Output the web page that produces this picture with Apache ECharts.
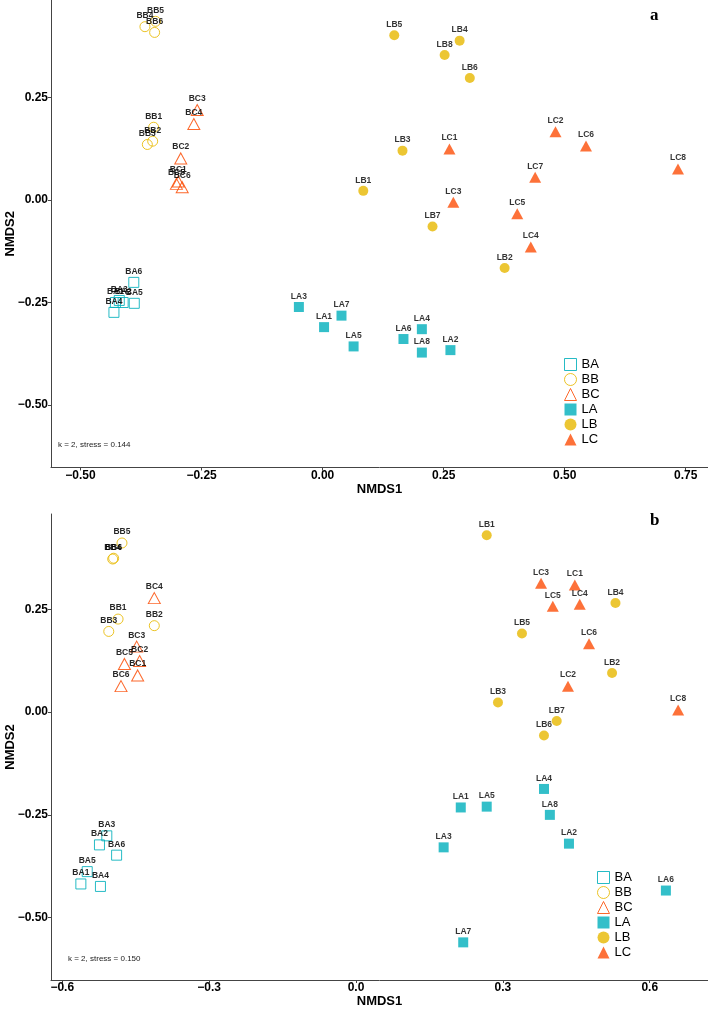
<!DOCTYPE html>
<html>
<head>
<meta charset="utf-8">
<script src="https://cdn.jsdelivr.net/npm/echarts@6/dist/echarts.min.js"></script>
<style>
  html, body { margin: 0; padding: 0; background: #fff; }
  #chart { width: 708px; height: 1010px; }
</style>
</head>
<body>
<div id="chart"></div>
<script>
// panel a: [NMDS1, NMDS2, sample]
var baA = [[-0.428, -0.250, 'BA1'], [-0.412, -0.250, 'BA2'], [-0.420, -0.245, 'BA3'], [-0.431, -0.274, 'BA4'], [-0.389, -0.252, 'BA5'], [-0.390, -0.201, 'BA6']];
var bbA = [[-0.349, 0.177, 'BB1'], [-0.351, 0.143, 'BB2'], [-0.362, 0.135, 'BB3'], [-0.367, 0.422, 'BB4'], [-0.345, 0.435, 'BB5'], [-0.347, 0.408, 'BB6']];
var bcA = [[-0.298, 0.045, 'BC1'], [-0.293, 0.101, 'BC2'], [-0.259, 0.219, 'BC3'], [-0.266, 0.185, 'BC4'], [-0.302, 0.039, 'BC5'], [-0.290, 0.031, 'BC6']];
var laA = [[0.003, -0.310, 'LA1'], [0.264, -0.366, 'LA2'], [-0.049, -0.261, 'LA3'], [0.205, -0.315, 'LA4'], [0.064, -0.357, 'LA5'], [0.167, -0.339, 'LA6'], [0.039, -0.282, 'LA7'], [0.205, -0.372, 'LA8']];
var lbA = [[0.084, 0.022, 'LB1'], [0.376, -0.166, 'LB2'], [0.165, 0.120, 'LB3'], [0.283, 0.388, 'LB4'], [0.148, 0.401, 'LB5'], [0.304, 0.297, 'LB6'], [0.227, -0.065, 'LB7'], [0.252, 0.353, 'LB8']];
var lcA = [[0.262, 0.124, 'LC1'], [0.481, 0.166, 'LC2'], [0.270, -0.006, 'LC3'], [0.430, -0.115, 'LC4'], [0.402, -0.034, 'LC5'], [0.544, 0.131, 'LC6'], [0.439, 0.055, 'LC7'], [0.734, 0.075, 'LC8']];

// panel b
var baB = [[-0.562, -0.418, 'BA1'], [-0.524, -0.323, 'BA2'], [-0.509, -0.301, 'BA3'], [-0.522, -0.424, 'BA4'], [-0.549, -0.388, 'BA5'], [-0.489, -0.348, 'BA6']];
var bbB = [[-0.486, 0.226, 'BB1'], [-0.412, 0.210, 'BB2'], [-0.505, 0.196, 'BB3'], [-0.497, 0.372, 'BB4'], [-0.478, 0.411, 'BB5'], [-0.495, 0.374, 'BB6']];
var bcB = [[-0.446, 0.089, 'BC1'], [-0.442, 0.124, 'BC2'], [-0.448, 0.159, 'BC3'], [-0.412, 0.277, 'BC4'], [-0.473, 0.117, 'BC5'], [-0.480, 0.063, 'BC6']];
var laB = [[0.214, -0.232, 'LA1'], [0.435, -0.320, 'LA2'], [0.179, -0.329, 'LA3'], [0.384, -0.187, 'LA4'], [0.267, -0.230, 'LA5'], [0.633, -0.434, 'LA6'], [0.219, -0.560, 'LA7'], [0.396, -0.250, 'LA8']];
var lbB = [[0.267, 0.430, 'LB1'], [0.523, 0.095, 'LB2'], [0.290, 0.023, 'LB3'], [0.530, 0.265, 'LB4'], [0.339, 0.191, 'LB5'], [0.384, -0.057, 'LB6'], [0.410, -0.022, 'LB7']];
var lcB = [[0.447, 0.309, 'LC1'], [0.433, 0.063, 'LC2'], [0.378, 0.313, 'LC3'], [0.457, 0.262, 'LC4'], [0.402, 0.257, 'LC5'], [0.476, 0.166, 'LC6'], [0.658, 0.005, 'LC8']];

var groups = ['BA', 'BB', 'BC', 'LA', 'LB', 'LC'];
var xTicksA = [-0.5, -0.25, 0, 0.25, 0.5, 0.75];
var xTicksB = [-0.6, -0.3, 0, 0.3, 0.6];
var yTicks = [-0.5, -0.25, 0, 0.25];
var stressA = 'k = 2, stress = 0.144';
var stressB = 'k = 2, stress = 0.150';

var FONT = 'Liberation Sans';
var cols = { A: '#00AFBB', B: '#E7B800', C: '#FC4E07' };
var shapes = { A: 'rect', B: 'circle', C: 'triangle' };
var sizes = { A: 10, B: 10, C: [12, 11] };

function fmt(d) {
    return function (v) { return (v < 0 ? '\u2212' : '') + Math.abs(v).toFixed(d); };
}

function makeSeries(name, arr, idx) {
    var k = name.charAt(1);
    var hollow = name.charAt(0) === 'B';
    return {
        type: 'scatter',
        name: name,
        xAxisIndex: idx,
        yAxisIndex: idx,
        symbol: shapes[k],
        symbolSize: sizes[k],
        itemStyle: hollow
            ? { color: 'transparent', borderColor: cols[k], borderWidth: 1, opacity: 0.85 }
            : { color: cols[k] },
        label: {
            show: true, position: 'top', distance: 1, formatter: '{b}',
            fontFamily: FONT, fontSize: 8.5, fontWeight: 'bold', color: '#000'
        },
        emphasis: { disabled: true },
        data: arr.map(function (p) { return { value: [p[0], p[1]], name: p[2] }; })
    };
}

function legendData() {
    return groups.map(function (g) {
        var k = g.charAt(1);
        var hollow = g.charAt(0) === 'B';
        return {
            name: g,
            icon: shapes[k],
            itemStyle: hollow
                ? { color: 'transparent', borderColor: cols[k], borderWidth: 1 }
                : { color: cols[k], borderWidth: 0 }
        };
    });
}

function xAxis(idx, min, max, ticks, dec) {
    return {
        type: 'value', gridIndex: idx, min: min, max: max,
        name: 'NMDS1', nameLocation: 'middle', nameGap: 15, nameMoveOverlap: false,
        nameTextStyle: { fontFamily: FONT, fontSize: 13, fontWeight: 'bold', color: '#000' },
        axisLine: { show: true, onZero: false, lineStyle: { color: '#444', width: 1 } },
        axisTick: { show: true, length: 3, customValues: ticks, lineStyle: { color: '#444' } },
        axisLabel: { customValues: ticks, margin: 2, formatter: fmt(dec),
            fontFamily: FONT, fontSize: 12, fontWeight: 'bold', color: '#000' },
        splitLine: { show: false }
    };
}

function yAxis(idx, min, max) {
    return {
        type: 'value', gridIndex: idx, min: min, max: max,
        name: 'NMDS2', nameLocation: 'middle', nameGap: 34, nameRotate: 90, nameMoveOverlap: false,
        nameTextStyle: { fontFamily: FONT, fontSize: 13, fontWeight: 'bold', color: '#000' },
        axisLine: { show: true, onZero: false, lineStyle: { color: '#444', width: 1 } },
        axisTick: { show: true, length: 3, customValues: yTicks, lineStyle: { color: '#444' } },
        axisLabel: { customValues: yTicks, margin: 3, formatter: fmt(2),
            fontFamily: FONT, fontSize: 12, fontWeight: 'bold', color: '#000' },
        splitLine: { show: false }
    };
}

var seriesList = [];
[baA, bbA, bcA, laA, lbA, lcA].forEach(function (arr, i) { seriesList.push(makeSeries(groups[i], arr, 0)); });
[baB, bbB, bcB, laB, lbB, lcB].forEach(function (arr, i) { seriesList.push(makeSeries(groups[i], arr, 1)); });

var legendStyle = {
    orient: 'vertical', itemWidth: 12, itemHeight: 12, itemGap: 2, selectedMode: false,
    textStyle: { fontFamily: FONT, fontSize: 13, color: '#000' }
};

var myChart = echarts.init(document.getElementById('chart'), null, { renderer: 'canvas' });
var option = {
    animation: false,
    backgroundColor: '#fff',
    title: [
        { text: 'a', left: 645, top: 2, textStyle: { fontFamily: 'Liberation Serif', fontSize: 17, fontWeight: 'bold', color: '#000' } },
        { text: 'b', left: 645, top: 507, textStyle: { fontFamily: 'Liberation Serif', fontSize: 17, fontWeight: 'bold', color: '#000' } }
    ],
    legend: [
        Object.assign({ data: legendData(), left: 559, top: 353 }, legendStyle),
        Object.assign({ data: legendData(), left: 592, top: 866 }, legendStyle)
    ],
    grid: [
        { left: 51, right: 0, top: 0, height: 467.5, containLabel: false, outerBoundsMode: 'none' },
        { left: 51, right: 0, top: 514, height: 466, containLabel: false, outerBoundsMode: 'none' }
    ],
    xAxis: [xAxis(0, -0.561, 0.796, xTicksA, 2), xAxis(1, -0.623, 0.719, xTicksB, 1)],
    yAxis: [yAxis(0, -0.652, 0.487), yAxis(1, -0.6515, 0.4815)],
    graphic: [
        { type: 'text', left: 58, top: 441, style: { text: stressA, fontFamily: FONT, fontSize: 8, fill: '#222' } },
        { type: 'text', left: 68, top: 955, style: { text: stressB, fontFamily: FONT, fontSize: 8, fill: '#222' } }
    ],
    series: seriesList
};
myChart.setOption(option);
</script>
</body>
</html>
